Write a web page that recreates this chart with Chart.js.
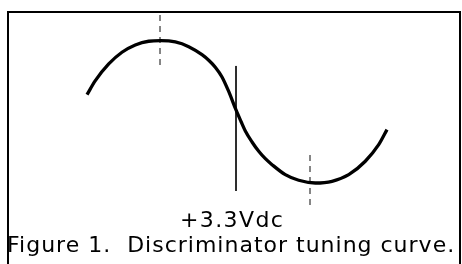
<!DOCTYPE html>
<html>
<head>
<meta charset="utf-8">
<script src="https://cdn.jsdelivr.net/npm/chart.js@4"></script>
<style>
  body { margin: 0; background: #fff; }
  #wrap { position: relative; width: 462px; height: 264px; overflow: hidden; }
  #frame {
    position: absolute; left: 7px; top: 11px; width: 450px; height: 300px;
    border: 2px solid #000; border-bottom: none;
  }
  canvas { position: absolute; left: 0; top: 0; }
  .txt {
    position: absolute; font-family: "DejaVu Sans", Verdana, sans-serif;
    color: #000; white-space: pre; line-height: 1;
  }
  #vlabel { left: 180px; top: 209px; font-size: 22px; letter-spacing: 1.4px; }
  #caption { left: 7px; top: 234px; font-size: 22px; letter-spacing: 1px; }
</style>
</head>
<body>
<div id="wrap">
  <div id="frame"></div>
  <canvas id="curveChart" width="462" height="264"></canvas>
  <div class="txt" id="vlabel">+3.3Vdc</div>
  <div class="txt" id="caption">Figure 1.  Discriminator tuning curve.</div>
</div>
<script>
// Discriminator output vs. frequency offset (kHz -> Vdc)
const offsets = [-19.35, -18.27, -16.53, -14.81, -13.08, -11.34, -9.78, -7.88, -6.14, -4.42, -3.51, -2.69,
  -1.82, -0.95, 0, 0.65, 1.21, 2.08, 2.95, 3.81, 4.68, 6.40, 8.14, 10.30, 12.47, 14.64, 16.79, 18.53, 19.61];
const volts = [3.544, 3.741, 3.976, 4.141, 4.244, 4.296, 4.304, 4.286, 4.220, 4.107, 4.025, 3.930,
  3.793, 3.589, 3.328, 3.166, 3.032, 2.877, 2.746, 2.642, 2.558, 2.417, 2.338, 2.300, 2.324, 2.417, 2.606, 2.839, 3.051];

// marker lines: peak, centre (+3.3Vdc) and trough
const peakMarkX = -9.87, peakMarkY = [4.666, 3.934];
const centerMarkX = 0, centerMarkY = [3.948, 2.187];
const troughMarkX = 9.61, troughMarkY = [2.694, 1.962];

const curve = offsets.map((x, i) => ({ x: x, y: volts[i] }));
const vline = (x, ys) => ys.map(y => ({ x: x, y: y }));

const config = {
  type: 'scatter',
  data: {
    datasets: [
      { data: curve, showLine: true, borderColor: '#000', borderWidth: 3.3, cubicInterpolationMode: 'monotone', pointRadius: 0 },
      { data: vline(centerMarkX, centerMarkY), showLine: true, borderColor: '#111', borderWidth: 1, pointRadius: 0 },
      { data: vline(peakMarkX, peakMarkY), showLine: true, borderColor: '#444', borderWidth: 1.3, borderDash: [6, 5], pointRadius: 0 },
      { data: vline(troughMarkX, troughMarkY), showLine: true, borderColor: '#444', borderWidth: 1.3, borderDash: [6, 5], pointRadius: 0 }
    ]
  },
  options: {
    responsive: false,
    animation: false,
    devicePixelRatio: 1,
    layout: { padding: 0 },
    plugins: { legend: { display: false }, tooltip: { enabled: false } },
    scales: {
      x: { type: 'linear', display: false, min: -30.65, max: 29.35 },
      y: { type: 'linear', display: false, min: 1.159, max: 4.877 }
    }
  }
};

const tuningChart = new Chart(document.getElementById('curveChart'), config);
</script>
</body>
</html>
